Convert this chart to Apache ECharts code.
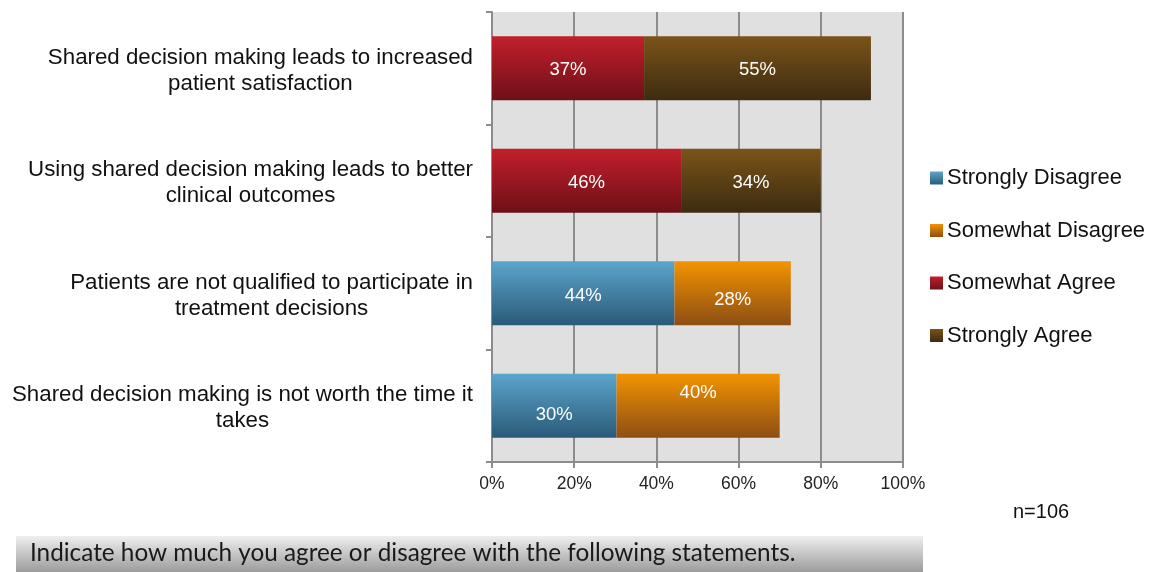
<!DOCTYPE html>
<html>
<head>
<meta charset="utf-8">
<script src="https://cdn.jsdelivr.net/npm/echarts@6/dist/echarts.min.js"></script>
<style>
html,body{margin:0;padding:0;background:#fff;}
#c{width:1151px;height:572px;}
</style>
</head>
<body>
<div id="c"></div>
<script>
var categories = [
  "Shared decision making leads to increased\npatient satisfaction",
  "Using shared decision making leads to better\nclinical outcomes",
  "Patients are not qualified to participate in\ntreatment decisions",
  "Shared decision making is not worth the time it\ntakes"
];
var seriesNames = ["Strongly Disagree", "Somewhat Disagree", "Somewhat Agree", "Strongly Agree"];
var stronglyDisagree = [null, null, 44.4, 30.3];
var somewhatDisagree = [null, null, 28.3, 39.7];
var somewhatAgree = [37, 46, null, null];
var stronglyAgree = [55.2, 34, null, null];
var xTicks = { min: 0, max: 100, interval: 20 };
var sampleNote = "n=106";
var footerText = "Indicate how much you agree or disagree with the following statements.";

var FONT = '"Liberation Sans", Arial, sans-serif';

function grad(top, bottom) {
  return new echarts.graphic.LinearGradient(0, 0, 0, 1, [
    { offset: 0, color: top }, { offset: 1, color: bottom }
  ]);
}
var colors = [
  grad('#5ba5cc', '#2a5a78'),
  grad('#f39300', '#8d4e14'),
  grad('#c21f2c', '#6d1017'),
  grad('#7a5419', '#3d2b10')
];
// label vertical offsets per item (style only)
var labelOffsets = [
  [null, null, [0, 3], [0, 9]],
  [null, null, [0, 7], [0, -13]],
  [[0, 2], [0, 2], null, null],
  [[0, 2], [0, 2], null, null]
];
var values = [stronglyDisagree, somewhatDisagree, somewhatAgree, stronglyAgree];

var series = values.map(function (arr, si) {
  return {
    name: seriesNames[si],
    type: 'bar',
    stack: 'total',
    barWidth: '57%',
    itemStyle: { color: colors[si] },
    label: {
      show: true,
      position: 'inside',
      color: '#ffffff',
      fontSize: 18.5,
      fontFamily: FONT,
      formatter: function (p) { return p.value == null ? '' : Math.round(p.value) + '%'; }
    },
    data: arr.map(function (v, i) {
      var o = { value: v };
      if (labelOffsets[si][i]) o.label = { offset: labelOffsets[si][i] };
      return o;
    })
  };
});

var chart = echarts.init(document.getElementById('c'), null, { renderer: 'canvas' });
chart.setOption({
  animation: false,
  backgroundColor: '#ffffff',
  grid: {
    left: 492, right: 248, top: 12, bottom: 110,
    show: true, backgroundColor: '#e1e0e1', borderWidth: 0
  },
  legend: {
    orient: 'vertical',
    left: 925,
    top: 162,
    icon: 'rect',
    itemWidth: 13,
    itemHeight: 13,
    itemGap: 30.5,
    data: seriesNames,
    textStyle: { fontSize: 22, lineHeight: 22, color: '#111', fontFamily: FONT, padding: [0, 0, 0, -1] }
  },
  xAxis: {
    type: 'value',
    min: xTicks.min, max: xTicks.max, interval: xTicks.interval,
    axisLine: { show: true, lineStyle: { color: '#8c8c8c', width: 2 } },
    axisTick: { show: true, length: 6, lineStyle: { color: '#8c8c8c', width: 2 } },
    splitLine: { show: true, lineStyle: { color: '#8c8c8c', width: 2 } },
    axisLabel: { formatter: '{value}%', fontSize: 17.5, color: '#222', fontFamily: FONT, margin: 13 }
  },
  yAxis: {
    type: 'category',
    inverse: true,
    data: categories,
    axisLine: { show: true, lineStyle: { color: '#8c8c8c', width: 2 } },
    axisTick: { show: true, length: 6, lineStyle: { color: '#8c8c8c', width: 2 } },
    axisLabel: {
      margin: 19,
      padding: [5, 0, 0, 0],
      formatter: function (v) {
        return v.split('\n').map(function (s) { return '{c|' + s + '}'; }).join('\n');
      },
      rich: {
        c: { align: 'center', fontSize: 22.3, lineHeight: 26, color: '#111', fontFamily: FONT }
      }
    }
  },
  graphic: [
    {
      type: 'text', left: 1013, top: 502,
      style: { text: sampleNote, fontSize: 20, fill: '#111', fontFamily: FONT }
    },
    {
      type: 'rect', left: 16, top: 536,
      shape: { width: 907, height: 36 },
      style: { fill: grad('#efefef', '#9c9c9c') }
    },
    {
      type: 'text', left: 30, top: 541,
      style: { text: footerText, fontSize: 24.3, fill: '#1a1a1a', fontFamily: 'Lato, "Open Sans", sans-serif' }
    }
  ],
  series: series
});
</script>
</body>
</html>
